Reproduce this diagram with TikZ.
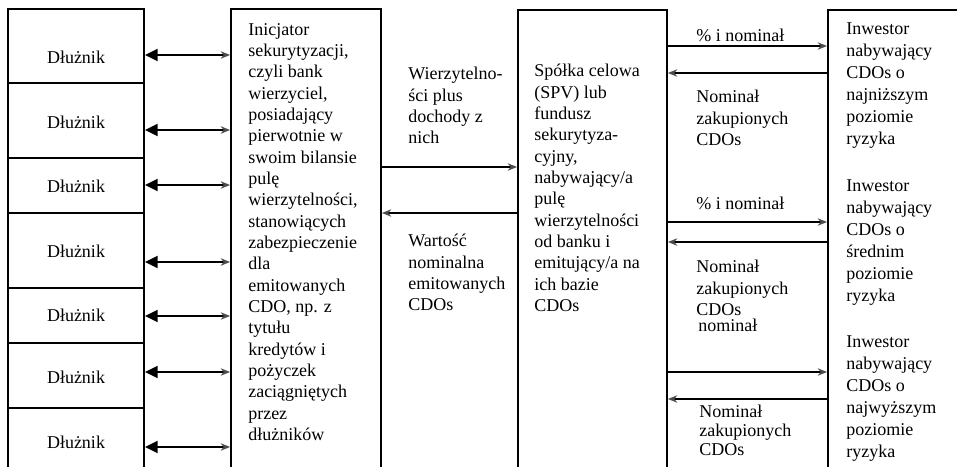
\documentclass[tikz,border=0pt]{standalone}
\usepackage{fontspec}
\setmainfont{Liberation Serif}
\usetikzlibrary{arrows.meta}

\begin{document}
\begin{tikzpicture}[x=0.75pt,y=0.75pt,yscale=-1,xscale=1,
		box/.style={draw,line width=1.4pt,inner sep=0pt},
		txt/.style={anchor=north west,inner sep=0pt,align=left,font=\fontsize{13.5pt}{16pt}\selectfont},
		dlab/.style={inner sep=0pt,font=\fontsize{13.5pt}{16pt}\selectfont},
		duo/.style={line width=1.5pt,{Triangle[length=9.5pt,width=9pt]}-{Stealth[length=7pt,width=5.5pt,color=black!70]}},
		arr/.style={line width=1.5pt,-{Stealth[length=7pt,width=5.5pt,color=black!70]}}]
			\clip (0,0) rectangle (957,467);

			%Shape: Rectangle [Dluznik column]
			\node [box,minimum width=102pt,minimum height=55.5pt] (d1) at (76,46) {};
			\node [box,minimum width=102pt,minimum height=56.25pt] (d2) at (76,120.5) {};
			\node [box,minimum width=102pt,minimum height=41.25pt] (d3) at (76,185.5) {};
			\node [box,minimum width=102pt,minimum height=56.25pt] (d4) at (76,250.5) {};
			\node [box,minimum width=102pt,minimum height=41.25pt] (d5) at (76,315.5) {};
			\node [box,minimum width=102pt,minimum height=48.75pt] (d6) at (76,375.5) {};
			\node [box,minimum width=102pt,minimum height=54pt] (d7) at (76,444) {};
			%Shape: Rectangle [bank, SPV, investors]
			\node [box,minimum width=112.5pt,minimum height=353.25pt] (ini) at (306,244.5) {};
			\node [box,minimum width=111.75pt,minimum height=352.5pt] (spv) at (592.5,245) {};
			\node [box,minimum width=129pt,minimum height=352.5pt] (inv) at (914,245) {};

			% Text Node
			\node [dlab] (dl1) at (76,57) {Dłużnik};
			% Text Node
			\node [dlab] (dl2) at (76,122) {Dłużnik};
			% Text Node
			\node [dlab] (dl3) at (76,186) {Dłużnik};
			% Text Node
			\node [dlab] (dl4) at (76,251) {Dłużnik};
			% Text Node
			\node [dlab] (dl5) at (76,315) {Dłużnik};
			% Text Node
			\node [dlab] (dl6) at (76,377) {Dłużnik};
			% Text Node
			\node [dlab] (dl7) at (76,442) {Dłużnik};

			%Straight Lines [Dluznik <-> bank]
			\draw [duo] (d1.east |- 0,55) -- (ini.west |- 0,55);
			\draw [duo] (d2.east |- 0,130) -- (ini.west |- 0,130);
			\draw [duo] (d3.east |- 0,185) -- (ini.west |- 0,185);
			\draw [duo] (d4.east |- 0,262) -- (ini.west |- 0,262);
			\draw [duo] (d5.east |- 0,316) -- (ini.west |- 0,316);
			\draw [duo] (d6.east |- 0,372) -- (ini.west |- 0,372);
			\draw [duo] (d7.east |- 0,447) -- (ini.west |- 0,447);
			%Straight Lines [bank <-> SPV]
			\draw [arr] (ini.east |- 0,167) -- (spv.west |- 0,167);
			\draw [arr] (spv.west |- 0,213) -- (ini.east |- 0,213);
			%Straight Lines [SPV <-> investors]
			\draw [arr] (spv.east |- 0,46) -- (inv.west |- 0,46);
			\draw [arr] (inv.west |- 0,73) -- (spv.east |- 0,73);
			\draw [arr] (spv.east |- 0,222) -- (inv.west |- 0,222);
			\draw [arr] (inv.west |- 0,242) -- (spv.east |- 0,242);
			\draw [arr] (spv.east |- 0,372) -- (inv.west |- 0,372);
			\draw [arr] (inv.west |- 0,399) -- (spv.east |- 0,399);

			% Text Node
			\node [txt] (initxt) at (248,23) {Inicjator\\sekurytyzacji,\\czyli bank\\wierzyciel,\\posiadający\\pierwotnie w\\swoim bilansie\\pulę\\wierzytelności,\\stanowiących\\zabezpieczenie\\dla\\emitowanych\\CDO, np. z\\tytułu\\kredytów i\\pożyczek\\zaciągniętych\\przez\\dłużników};
			% Text Node
			\node [txt] (wierz) at (408,67) {Wierzytelno-\\ści plus\\dochody z\\nich};
			% Text Node
			\node [txt] (wart) at (408,234) {Wartość\\nominalna\\emitowanych\\CDOs};
			% Text Node
			\node [txt] (spvtxt) at (534,64) {Spółka celowa\\(SPV) lub\\fundusz\\sekurytyza-\\cyjny,\\nabywający/a\\pulę\\wierzytelności\\od banku i\\emitujący/a na\\ich bazie\\CDOs};
			% Text Node
			\node [txt] (proc1) at (696,29) {\% i nominał};
			% Text Node
			\node [txt] (nom1) at (696,90) {Nominał\\zakupionych\\CDOs};
			% Text Node
			\node [txt] (proc2) at (696,197) {\% i nominał};
			% Text Node
			\node [txt] (nom2) at (696,260) {Nominał\\zakupionych\\CDOs};
			% Text Node
			\node [txt] (proc3) at (698,319) {nominał};
			% Text Node
			\node [txt,font=\fontsize{13.5pt}{14.3pt}\selectfont] (nom3) at (699,405) {Nominał\\zakupionych\\CDOs};
			% Text Node
			\node [txt,font=\fontsize{13.5pt}{16.5pt}\selectfont] (inv1) at (846,22) {Inwestor\\nabywający\\CDOs o\\najniższym\\poziomie\\ryzyka};
			% Text Node
			\node [txt,font=\fontsize{13.5pt}{16.5pt}\selectfont] (inv2) at (846,179) {Inwestor\\nabywający\\CDOs o\\średnim\\poziomie\\ryzyka};
			% Text Node
			\node [txt,font=\fontsize{13.5pt}{16.5pt}\selectfont] (inv3) at (846,335) {Inwestor\\nabywający\\CDOs o\\najwyższym\\poziomie\\ryzyka};

		\end{tikzpicture}
\end{document}
